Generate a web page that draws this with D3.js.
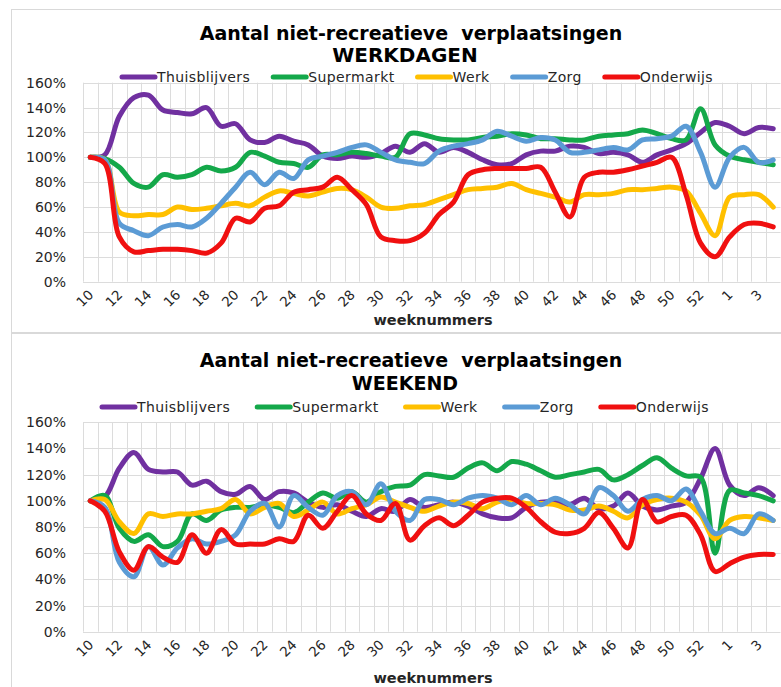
<!DOCTYPE html>
<html>
<head>
<meta charset="utf-8">
<script src="https://cdn.jsdelivr.net/npm/d3@7"></script>
<style>
  body { margin: 0; background: #fff; }
  svg { display: block; font-family: "DejaVu Sans", Verdana, sans-serif; }
</style>
</head>
<body>
<div id="chart"></div>
<script>
// weeknummers: week 10 van 2020 t/m week 4 van 2021
var weeks = [10, 11, 12, 13, 14, 15, 16, 17, 18, 19, 20, 21, 22, 23, 24, 25, 26, 27, 28, 29,
    30, 31, 32, 33, 34, 35, 36, 37, 38, 39, 40, 41, 42, 43, 44, 45, 46, 47, 48, 49,
    50, 51, 52, 53, 1, 2, 3, 4];

var seriesNames = ["Thuisblijvers", "Supermarkt", "Werk", "Zorg", "Onderwijs"];
var seriesColors = ["#7030a0", "#14a84a", "#ffc000", "#5b9bd5", "#f01010"];
var yTicks = [0, 0.2, 0.4, 0.6, 0.8, 1.0, 1.2, 1.4, 1.6];

// WERKDAGEN (procent t.o.v. week 10)
var werkThuis = [100, 102, 133, 148, 150, 138, 136, 135, 140, 125, 127, 114, 112, 117, 113, 110,
    101, 99, 101, 100, 103, 109, 104, 111, 104, 108, 104, 98, 94, 95, 102, 105,
    105, 109, 108, 103, 104, 102, 96, 102, 106, 111, 120, 128, 125, 119, 124, 123];
var werkSuper = [100, 99, 92, 79, 76, 86, 84, 86, 92, 89, 92, 104, 101, 96, 95, 92,
    102, 102, 104, 103, 101, 100, 119, 118, 115, 114, 114, 116, 117, 119, 118, 115,
    115, 114, 114, 117, 118, 119, 122, 119, 115, 114, 139, 110, 101, 98, 96, 94];
var werkWerk = [100, 98, 56, 53, 54, 54, 60, 58, 59, 61, 63, 61, 68, 73, 71, 69,
    72, 75, 74, 68, 60, 59, 61, 62, 66, 70, 74, 75, 76, 79, 74, 71,
    68, 64, 70, 70, 71, 74, 74, 75, 76, 73, 55, 37, 68, 70, 70, 60];
var werkZorg = [100, 98, 47, 41, 37, 44, 46, 44, 51, 63, 76, 88, 78, 88, 83, 98,
    101, 104, 108, 110, 104, 98, 96, 95, 105, 109, 111, 114, 121, 117, 113, 116,
    114, 104, 104, 106, 108, 106, 114, 115, 117, 125, 104, 76, 100, 108, 96, 98];
var werkOnderwijs = [100, 95, 36, 24, 25, 26, 26, 25, 23, 31, 51, 48, 59, 61, 72, 74,
    76, 84, 74, 62, 36, 33, 33, 39, 54, 64, 86, 90, 91, 91, 91, 92,
    72, 52, 84, 88, 88, 90, 93, 96, 100, 70, 31, 20, 36, 46, 47, 44];

// WEEKEND
var weekendThuis = [100, 103, 125, 137, 124, 122, 122, 112, 115, 107, 105, 111, 101, 107, 106, 99,
    95, 97, 92, 88, 94, 92, 101, 95, 97, 99, 96, 90, 87, 87, 95, 99,
    99, 97, 102, 94, 96, 106, 96, 93, 96, 99, 117, 140, 112, 104, 110, 104];
var weekendSuper = [100, 104, 79, 69, 74, 65, 69, 90, 85, 93, 95, 95, 97, 95, 91, 99,
    106, 102, 107, 99, 107, 111, 112, 120, 119, 118, 125, 129, 123, 130, 128, 123,
    118, 120, 122, 124, 116, 120, 127, 133, 125, 119, 118, 60, 108, 106, 104, 100];
var weekendWerk = [100, 101, 84, 75, 90, 88, 90, 90, 92, 94, 101, 90, 95, 98, 88, 93,
    99, 90, 94, 97, 103, 99, 95, 92, 96, 99, 98, 94, 99, 101, 98, 98,
    97, 93, 93, 96, 92, 87, 97, 101, 102, 99, 89, 71, 85, 88, 87, 85];
var weekendZorg = [100, 95, 53, 42, 65, 51, 64, 71, 67, 69, 74, 92, 98, 80, 104, 95,
    89, 104, 107, 97, 113, 92, 85, 101, 101, 97, 102, 104, 102, 97, 104, 97,
    102, 97, 90, 110, 104, 92, 101, 104, 100, 109, 92, 75, 79, 75, 90, 85];
var weekendOnderwijs = [100, 92, 61, 47, 65, 57, 53, 74, 60, 78, 67, 67, 67, 71, 69, 89,
    79, 92, 104, 90, 85, 98, 70, 81, 87, 81, 89, 99, 102, 102, 95, 84,
    76, 75, 79, 91, 79, 64, 101, 84, 88, 89, 74, 46, 52, 57, 59, 59];

var width = 781,
    height = 687;

var svg = d3.select("#chart").append("svg")
    .attr("width", width)
    .attr("height", height);

// Excel-achtige kaders
svg.append("rect")
    .attr("x", 11.5).attr("y", 9.5)
    .attr("width", width + 10).attr("height", 323)
    .attr("fill", "#fff").attr("stroke", "#d9d9d9");
svg.append("rect")
    .attr("x", 11.5).attr("y", 333.5)
    .attr("width", width + 10).attr("height", height)
    .attr("fill", "#fff").attr("stroke", "#d9d9d9");

var charts = [
    {
        title: "Aantal niet-recreatieve  verplaatsingen", sub: "WERKDAGEN", subSize: 20,
        titleY: 40, subY: 62, legendY: 77, legendX: 120, legendGap: 21,
        top: 82.7, bottom: 281.7, axisTitleY: 327,
        data: [werkThuis, werkSuper, werkWerk, werkZorg, werkOnderwijs]
    },
    {
        title: "Aantal niet-recreatieve  verplaatsingen", sub: "WEEKEND", subSize: 19,
        titleY: 367, subY: 390, legendY: 407, legendX: 100, legendGap: 25,
        top: 422.3, bottom: 631.7, axisTitleY: 685,
        data: [weekendThuis, weekendSuper, weekendWerk, weekendZorg, weekendOnderwijs]
    }
];

var x = d3.scaleBand()
    .domain(weeks)
    .range([83, 780.5])
    .padding(0);

charts.forEach(function (c) {
    var g = svg.append("g");

    var y = d3.scaleLinear()
        .domain([0, 1.6])
        .range([c.bottom, c.top]);

    // grid
    g.append("g").selectAll("line.h")
        .data(yTicks)
        .enter().append("line")
        .attr("x1", x.range()[0]).attr("x2", x.range()[1])
        .attr("y1", function (d) { return Math.round(y(d)) + 0.5; })
        .attr("y2", function (d) { return Math.round(y(d)) + 0.5; })
        .attr("stroke", "#dcdcdc");

    var bounds = weeks.map(function (w) { return x(w); }).concat([x.range()[1]]);
    g.append("g").selectAll("line.v")
        .data(bounds)
        .enter().append("line")
        .attr("x1", function (d) { return Math.round(d) + 0.5; })
        .attr("x2", function (d) { return Math.round(d) + 0.5; })
        .attr("y1", c.top).attr("y2", c.bottom)
        .attr("stroke", "#dcdcdc");

    // y axis labels
    var yAxis = d3.axisLeft(y)
        .tickValues(yTicks)
        .tickFormat(d3.format(".0%"))
        .tickSize(0)
        .tickPadding(0);
    g.append("g")
        .attr("transform", "translate(66,0)")
        .call(yAxis)
        .call(function (s) { s.select(".domain").remove(); })
        .selectAll("text")
        .attr("font-family", "DejaVu Sans")
        .attr("font-size", 14)
        .attr("fill", "#262626");

    // x axis labels (elke tweede week)
    var xAxis = d3.axisBottom(x)
        .tickValues(weeks.filter(function (w, i) { return i % 2 === 0; }))
        .tickSize(0)
        .tickPadding(0);
    g.append("g")
        .attr("transform", "translate(0," + c.bottom + ")")
        .call(xAxis)
        .call(function (s) { s.select(".domain").remove(); })
        .selectAll("text")
        .attr("font-family", "DejaVu Sans")
        .attr("font-size", 13.5)
        .attr("fill", "#262626")
        .attr("text-anchor", "end")
        .attr("dy", null)
        .attr("y", 0)
        .attr("transform", "translate(4,14) rotate(-45)");

    g.append("text")
        .attr("x", 433).attr("y", c.axisTitleY - 2)
        .attr("text-anchor", "middle")
        .attr("font-weight", "bold")
        .attr("font-size", 14.5)
        .attr("fill", "#262626")
        .text("weeknummers");

    // titles
    g.append("text")
        .attr("x", 411).attr("y", c.titleY)
        .attr("text-anchor", "middle")
        .attr("font-weight", "bold")
        .attr("font-size", 19)
        .style("white-space", "pre")
        .text(c.title);
    g.append("text")
        .attr("x", 405).attr("y", c.subY)
        .attr("text-anchor", "middle")
        .attr("font-weight", "bold")
        .attr("font-size", c.subSize)
        .text(c.sub);

    // lines
    var line = d3.line()
        .x(function (d, i) { return x(weeks[i]) + x.bandwidth() / 2; })
        .y(function (d) { return y(d / 100); })
        .curve(d3.curveCatmullRom.alpha(0.5));

    c.data.forEach(function (vals, k) {
        g.append("path")
            .datum(vals)
            .attr("fill", "none")
            .attr("stroke", seriesColors[k])
            .attr("stroke-width", 5)
            .attr("stroke-linejoin", "round")
            .attr("stroke-linecap", "round")
            .attr("d", line);
    });

    // legend
    var lx = c.legendX;
    seriesNames.forEach(function (name, k) {
        g.append("line")
            .attr("x1", lx + 2).attr("x2", lx + 35)
            .attr("y1", c.legendY).attr("y2", c.legendY)
            .attr("stroke", seriesColors[k])
            .attr("stroke-width", 5)
            .attr("stroke-linecap", "round");
        var t = g.append("text")
            .attr("x", lx + 37).attr("y", c.legendY + 5)
            .attr("font-size", 14)
            .attr("letter-spacing", 0.4)
            .attr("fill", "#262626")
            .text(name);
        lx = lx + 37 + t.node().getComputedTextLength() + c.legendGap;
    });
});
</script>
</body>
</html>
